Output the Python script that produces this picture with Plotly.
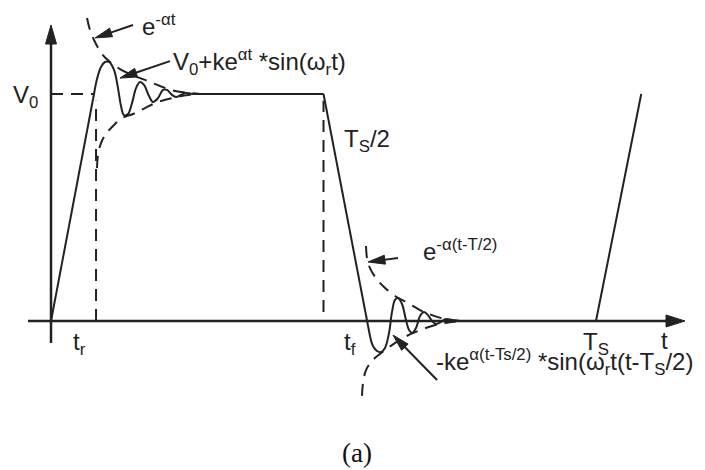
import math
import plotly.graph_objects as go

# Time in units of the switching period Ts, voltage in units of V0
T_S = 1.0
V_0 = 1.0
T_R = 0.08          # rise time
T_HALF = 0.5        # Ts/2, start of the falling edge

# Plot window (t, v)
T_RANGE = [-0.0936, 1.2]
V_RANGE = [-0.6564, 1.4141]
W, H = 705, 470

INK = "#222222"

# Ringing after the rising edge (V0 + k e^{-at} sin(wr t))
ring_up_t = [0.0789, 0.0844, 0.0917, 0.0991, 0.1064, 0.1156, 0.1229, 0.1284,
             0.1339, 0.1413, 0.1486, 0.1560, 0.1633, 0.1706, 0.1798, 0.1872,
             0.1963, 0.2055, 0.2128, 0.2220, 0.2294, 0.2385, 0.2477, 0.2587]
ring_up_v = [1.000, 1.066, 1.119, 1.141, 1.141, 1.106, 1.026, 0.947,
             0.907, 0.912, 0.960, 1.026, 1.053, 1.040, 0.991, 0.965,
             0.982, 1.018, 1.018, 0.996, 0.987, 0.996, 1.004, 1.000]

# Ringing after the falling edge
ring_dn_t = [0.5853, 0.5908, 0.5982, 0.6055, 0.6128, 0.6202, 0.6257, 0.6312,
             0.6367, 0.6440, 0.6514, 0.6569, 0.6624, 0.6697, 0.6771, 0.6844,
             0.6917, 0.6991, 0.7064, 0.7156, 0.7248, 0.7358, 0.7505]
ring_dn_v = [-0.066, -0.110, -0.132, -0.137, -0.119, -0.053, 0.040, 0.093,
             0.101, 0.075, 0.004, -0.040, -0.053, -0.031, 0.022, 0.040,
             0.026, 0.000, -0.013, -0.004, 0.009, 0.004, 0.000]

# Decay envelopes (dashed)
env_up_hi_t = [0.0661, 0.0716, 0.0807, 0.0936, 0.1083, 0.1266, 0.1486, 0.1725,
               0.2000, 0.2275, 0.2550, 0.2734]
env_up_hi_v = [1.335, 1.282, 1.229, 1.176, 1.141, 1.110, 1.084, 1.062,
               1.035, 1.013, 1.004, 1.000]
env_up_lo_t = [0.0844, 0.0862, 0.0917, 0.1009, 0.1138, 0.1303, 0.1505, 0.1725,
               0.1963, 0.2220, 0.2514, 0.2734]
env_up_lo_v = [0.674, 0.731, 0.784, 0.824, 0.859, 0.894, 0.912, 0.938,
               0.965, 0.982, 0.996, 1.000]
env_dn_hi_t = [0.5780, 0.5798, 0.5853, 0.5963, 0.6110, 0.6312, 0.6550, 0.6771,
               0.6991, 0.7229, 0.7505]
env_dn_hi_v = [0.330, 0.278, 0.233, 0.189, 0.150, 0.110, 0.079, 0.048,
               0.026, 0.009, 0.000]
env_dn_lo_t = [0.5706, 0.5725, 0.5780, 0.5890, 0.6037, 0.6257, 0.6495, 0.6734,
               0.6991, 0.7229, 0.7505]
env_dn_lo_v = [-0.330, -0.273, -0.216, -0.176, -0.145, -0.106, -0.070, -0.044,
               -0.022, -0.009, 0.000]

# Axis extents
t_axis = [-0.0422, 1.1633]
v_axis = [-0.0969, 1.304]

# Arrow annotations: (tail t, tail v, tip t, tip v)
arrow_tail_t = [0.1505, 0.2183, 0.6367, 0.7083]
arrow_tail_v = [1.304, 1.145, 0.278, -0.260]
arrow_tip_t = [0.0807, 0.1266, 0.5817, 0.6275]
arrow_tip_v = [1.247, 1.070, 0.260, -0.062]

# Text labels
label_text = [
    "e<sup>-αt</sup>",
    "V<sub>0</sub>+ke<sup>αt</sup> *sin(ω<sub>r</sub>t)",
    "V<sub>0</sub>",
    "T<sub>S</sub>/2",
    "e<sup>-α(t-T/2)</sup>",
    "-ke<sup>α(t-Ts/2)</sup> *sin(ω<sub>r</sub>t(t-T<sub>S</sub>/2)",
    "t<sub>r</sub>",
    "t<sub>f</sub>",
    "T<sub>S</sub>",
    "t",
]
label_t = [0.1633, 0.2202, -0.0734, 0.534, 0.679, 0.7028, 0.0367, 0.534, 0.9725, 1.1156]
label_v = [1.304, 1.141, 0.987, 0.797, 0.313, -0.181, -0.101, -0.101, -0.097, -0.088]

caption = "(a)"
caption_t = 0.5615
caption_v = -0.581

# pixels per data unit
SX = W / (T_RANGE[1] - T_RANGE[0])
SY = H / (V_RANGE[1] - V_RANGE[0])

fig = go.Figure()


def line(ts, vs, dash="solid", width=2.0, shape="linear"):
    fig.add_trace(go.Scatter(
        x=ts, y=vs, mode="lines",
        line=dict(color=INK, width=width, dash=dash, shape=shape, smoothing=1.0),
        hoverinfo="skip", showlegend=False))


def arrow(t0, v0, t1, v1, head_len=17, head_w=9, width=2.0):
    # direction in screen pixels (screen y grows downward, data v upward)
    dx = (t1 - t0) * SX
    dy = (v1 - v0) * SY
    n = math.hypot(dx, dy)
    ux, uy = dx / n, dy / n
    px, py = -uy, ux
    bx = t1 - head_len * ux / SX
    by = v1 - head_len * uy / SY
    # shaft stops inside the head
    sx_end = t1 - 0.7 * head_len * ux / SX
    sy_end = v1 - 0.7 * head_len * uy / SY
    line([t0, sx_end], [v0, sy_end], width=width)
    hx = [t1, bx + head_w / 2 * px / SX, bx - head_w / 2 * px / SX, t1]
    hy = [v1, by + head_w / 2 * py / SY, by - head_w / 2 * py / SY, v1]
    fig.add_trace(go.Scatter(
        x=hx, y=hy, mode="lines", fill="toself", fillcolor=INK,
        line=dict(color=INK, width=1), hoverinfo="skip", showlegend=False))


# Axes with arrowheads
line([t_axis[0], t_axis[1] - 14 / SX], [0, 0], width=2.5)
line([0, 0], [v_axis[0], v_axis[1] - 14 / SY], width=2.5)
arrow(t_axis[1] - 20 / SX, 0, t_axis[1], 0, head_len=19, head_w=12, width=2.5)
arrow(0, v_axis[1] - 20 / SY, 0, v_axis[1], head_len=19, head_w=11, width=2.5)

# Reference dashes: V0 level, tr and Ts/2 markers
DASH = "12px,8px"
line([0, T_R], [V_0, V_0], dash=DASH)
line([T_R + 0.0026, T_R + 0.0026], [0, 0.97], dash=DASH)
line([T_HALF, T_HALF], [0.04, 0.97], dash=DASH)

# Trapezoidal waveform, straight parts
line([0, ring_up_t[0]], [0, ring_up_v[0]])
line([ring_up_t[-1], T_HALF], [V_0, V_0])
line([T_HALF, ring_dn_t[0]], [V_0, ring_dn_v[0]])
line([ring_dn_t[-1], T_S, T_S + T_R + 0.003], [0, 0, V_0])

# Ringing
line(ring_up_t, ring_up_v, shape="spline")
line(ring_dn_t, ring_dn_v, shape="spline")

# Envelopes
for ts, vs in [(env_up_hi_t, env_up_hi_v), (env_up_lo_t, env_up_lo_v),
               (env_dn_hi_t, env_dn_hi_v), (env_dn_lo_t, env_dn_lo_v)]:
    line(ts, vs, dash=DASH, shape="spline")

# Label arrows
for a, b, c, d in zip(arrow_tail_t, arrow_tail_v, arrow_tip_t, arrow_tip_v):
    arrow(a, b, c, d)

for txt, t, v in zip(label_text, label_t, label_v):
    fig.add_annotation(x=t, y=v, text=txt, showarrow=False,
                       xanchor="left", yanchor="middle",
                       font=dict(family="Liberation Sans, Arial", size=24, color=INK))

fig.add_annotation(x=caption_t, y=caption_v, text=caption, showarrow=False,
                   xanchor="center", yanchor="middle",
                   font=dict(family="Liberation Serif, Times New Roman", size=27, color="#111"))

fig.update_layout(
    width=W, height=H,
    margin=dict(l=0, r=0, t=0, b=0),
    paper_bgcolor="white", plot_bgcolor="white",
    xaxis=dict(range=T_RANGE, visible=False, fixedrange=True),
    yaxis=dict(range=V_RANGE, visible=False, fixedrange=True),
)

fig.write_html("out.html")
